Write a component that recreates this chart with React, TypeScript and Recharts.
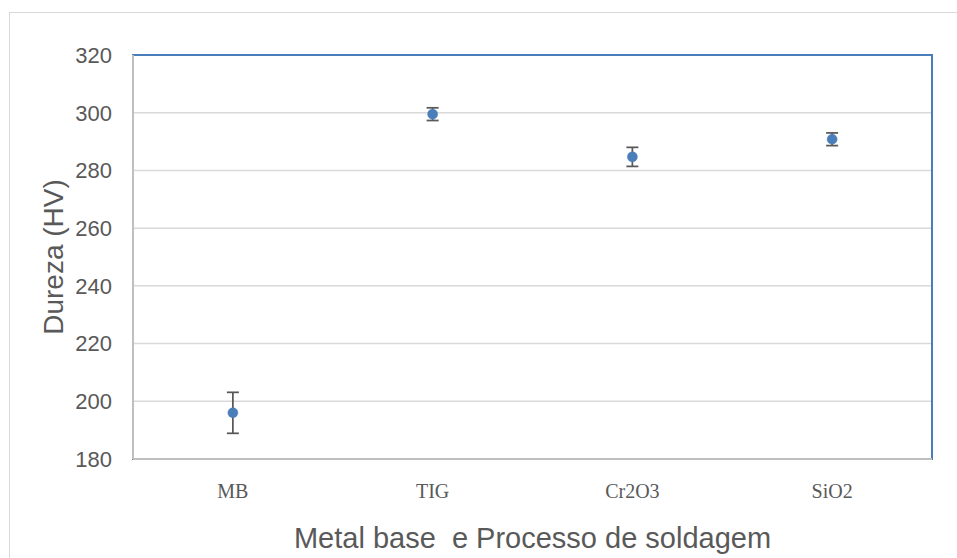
import React from 'react';
import {
  ComposedChart,
  Line,
  XAxis,
  YAxis,
  CartesianGrid,
  ErrorBar,
  ReferenceArea,
  Label,
} from 'recharts';

const categories: string[] = ['MB', 'TIG', 'Cr2O3', 'SiO2'];
const hardness: number[] = [196.0, 299.5, 284.7, 290.8];
const errors: number[] = [7.1, 2.2, 3.3, 2.2];
const yTicks: number[] = [180, 200, 220, 240, 260, 280, 300, 320];

const data = categories.map((name, i) => ({ name, v: hardness[i], e: errors[i] }));

const SANS = '"Liberation Sans", Arial, sans-serif';
const SERIF = '"Liberation Serif", "Times New Roman", serif';

export default function App() {
  return (
    <div
      style={{
        position: 'absolute',
        left: 0,
        top: 0,
        width: 957,
        height: 558,
        overflow: 'hidden',
        background: '#fff',
      }}
    >
      <div
        style={{
          position: 'absolute',
          left: 9,
          top: 12,
          width: 960,
          height: 560,
          border: '1px solid #D9D9D9',
          boxSizing: 'border-box',
        }}
      />
      <div style={{ position: 'absolute', left: 0, top: 0 }}>
        <ComposedChart
          width={957}
          height={558}
          data={data}
          margin={{ top: 55, right: 25, bottom: 0, left: 0 }}
        >
          <CartesianGrid vertical={false} stroke="#D9D9D9" strokeWidth={1.5} />
          <ReferenceArea
            y1={180}
            y2={320}
            fill="none"
            stroke="#4A7EBB"
            strokeWidth={2}
            ifOverflow="visible"
          />
          <XAxis
            dataKey="name"
            type="category"
            scale="band"
            height={99}
            axisLine={{ stroke: '#BFBFBF', strokeWidth: 2 }}
            tickLine={false}
            tickMargin={19}
            tick={{ fill: '#595959', fontSize: 20, fontFamily: SERIF }}
          >
            <Label
              value={'Metal base\u00A0 e Processo de soldagem'}
              position="insideBottom"
              offset={10}
              style={{ fill: '#595959', fontSize: 29, fontFamily: SANS }}
            />
          </XAxis>
          <YAxis
            type="number"
            domain={[180, 320]}
            ticks={yTicks}
            width={133}
            axisLine={{ stroke: '#BFBFBF', strokeWidth: 2 }}
            tickLine={false}
            tickMargin={15}
            tick={{ fill: '#595959', fontSize: 22, fontFamily: SANS }}
            interval={0}
          >
            <Label
              value="Dureza (HV)"
              angle={-90}
              position="insideLeft"
              offset={53}
              style={{ fill: '#595959', fontSize: 28, fontFamily: SANS, textAnchor: 'middle' }}
            />
          </YAxis>
          <Line
            dataKey="v"
            stroke="none"
            isAnimationActive={false}
            dot={{ r: 5, fill: '#4A7EBB', stroke: '#4A7EBB', strokeWidth: 0.5 }}
            activeDot={false}
          >
            <ErrorBar
              dataKey="e"
              direction="y"
              width={6}
              stroke="#595959"
              strokeWidth={1.75}
              isAnimationActive={false}
            />
          </Line>
        </ComposedChart>
      </div>
    </div>
  );
}
